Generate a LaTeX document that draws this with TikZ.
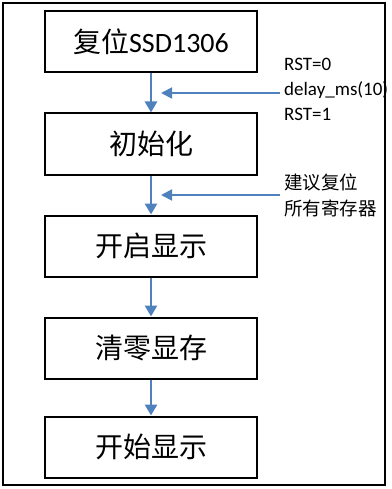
\documentclass[tikz,border=0pt]{standalone}
\usepackage{fontspec}
\setmainfont{Carlito}
\newfontfamily\cjk{Noto Sans CJK SC}
\usetikzlibrary{arrows.meta,positioning}
\definecolor{flowblue}{RGB}{79,129,189}

\begin{document}
\begin{tikzpicture}[
  x=1pt, y=-1pt,
  step box/.style={draw=black, line width=2pt, minimum width=212pt,
                   minimum height=61pt, inner sep=0pt,
                   font=\fontsize{28}{30}\selectfont},
  note/.style={align=left, inner sep=4pt, anchor=west,
               font=\fontsize{19}{25}\selectfont},
  arrow/.style={-{Triangle[length=11pt, width=12pt]}, line width=2.8pt, flowblue},
  sidearrow/.style={-{Triangle[length=11pt, width=11pt]}, line width=1.8pt, flowblue},
]
\useasboundingbox (0,0) rectangle (391,489);

%% ── Outer frame ──────────────────────────────────────────────────────────
\draw[line width=2pt] (3,3) rectangle (385,485);

%% ── Flow steps ───────────────────────────────────────────────────────────
\foreach \i/\y/\lab in {
  1/42/{{\cjk 复位}SSD1306},
  2/144/{\cjk 初始化},
  3/246/{\cjk 开启显示},
  4/348/{\cjk 清零显存},
  5/447/{\cjk 开始显示}} {
  \node[step box] (s\i) at (151, \y) {\lab};
}

%% ── Connection arrows ────────────────────────────────────────────────────
\foreach \i/\j in {1/2, 2/3, 3/4, 4/5} {
  \draw[arrow] (s\i.south) -- (s\j.north);
}

%% ── Side notes ───────────────────────────────────────────────────────────
\node[note] (n1) at (280, 89) {RST=0\\delay\_ms(10)\\RST=1};
\node[note, font=\fontsize{18.5}{26}\selectfont] (n2) at (280, 195)
  {\cjk 建议复位\\\cjk 所有寄存器};

\coordinate (t1) at (161, 93);
\coordinate (t2) at (161, 195);
\draw[sidearrow] (n1.west |- t1) -- (t1);
\draw[sidearrow] (n2.west |- t2) -- (t2);

\end{tikzpicture}
\end{document}
